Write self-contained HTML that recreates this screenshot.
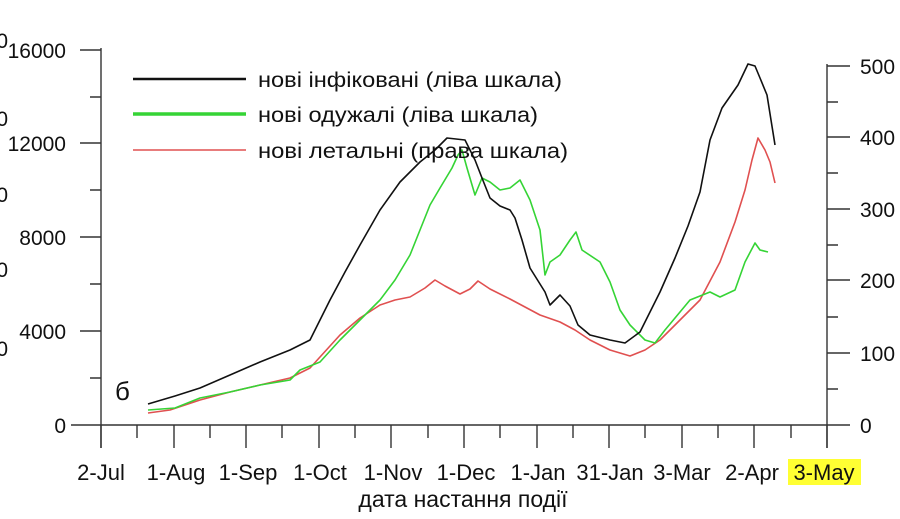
<!DOCTYPE html>
<html><head><meta charset="utf-8"><style>
body{margin:0;background:#fff;width:900px;height:514px;overflow:hidden}
svg{font-family:"Liberation Sans",sans-serif}
</style></head><body>
<svg width="900" height="514" viewBox="0 0 900 514">
<g stroke="#333" stroke-width="1.4" fill="none">
<line x1="101" y1="48" x2="101" y2="448"/>
<line x1="71" y1="425" x2="850" y2="425"/>
<line x1="827" y1="64" x2="827" y2="448"/>
<path d="M80 50H101M90 97H101M80 143H101M90 190H101M80 237H101M90 284H101M80 331H101M90 378H101"/>
<path d="M827 66H850M827 102H838M827 137H850M827 173H838M827 209H850M827 245H838M827 280H850M827 317H838M827 353H850M827 389H838"/>
<path d="M101 425V448M174 425V448M246 425V448M319 425V448M391 425V448M464 425V448M537 425V448M609 425V448M682 425V448M754 425V448M827 425V448"/>
<path d="M137 425V438M210 425V438M282 425V438M355 425V438M428 425V438M500 425V438M573 425V438M645 425V438M718 425V438M791 425V438"/>
</g>
<g font-size="21" fill="#111" text-anchor="end">
<text x="66" y="58">16000</text><text x="66" y="151">12000</text><text x="66" y="245">8000</text><text x="66" y="339">4000</text><text x="66" y="433">0</text>
</g>
<g font-size="21" fill="#111" text-anchor="end">
<text x="8" y="48">0</text><text x="8" y="126">0</text><text x="8" y="202">0</text><text x="8" y="277">0</text><text x="8" y="356">0</text>
</g>
<g font-size="21" fill="#111">
<text x="860" y="74">500</text><text x="860" y="145">400</text><text x="860" y="217">300</text><text x="860" y="288">200</text><text x="860" y="361">100</text><text x="860" y="433">0</text>
</g>
<rect x="788" y="459" width="73" height="26" fill="#ffff33"/>
<g font-size="22" fill="#111" text-anchor="middle">
<text x="101" y="480">2-Jul</text><text x="176" y="480">1-Aug</text><text x="248" y="480">1-Sep</text><text x="320" y="480">1-Oct</text><text x="393" y="480">1-Nov</text><text x="466" y="480">1-Dec</text><text x="538" y="480">1-Jan</text><text x="610" y="480">31-Jan</text><text x="682" y="480">3-Mar</text><text x="752" y="480">2-Apr</text><text x="824" y="480">3-May</text>
<text x="463" y="507" font-size="23">дата настання події</text>
</g>
<text x="115" y="400" font-size="26" fill="#111">б</text>
<g fill="none" stroke-width="1.6" stroke-linejoin="round">
<polyline stroke="#e05050" points="148,413 170,410 200,400 230,392 260,385 290,378 310,368 340,335 360,318 380,305 395,300 410,297 425,288 435,280 445,286 460,294 470,289 478,281 490,289 510,299 540,315 560,322 575,330 590,340 610,350 630,356 645,350 660,340 680,320 700,300 720,262 735,222 745,190 752,160 758,138 765,150 770,162 775,183"/>
<polyline stroke="#35d435" points="148,410 175,408 200,398 230,392 260,385 290,380 300,370 320,362 340,340 360,320 380,300 395,280 410,255 420,230 430,205 440,188 452,168 458,155 462,150 467,168 475,195 482,178 490,182 500,190 510,188 520,180 530,200 540,230 545,275 550,262 560,255 570,240 576,232 582,250 600,262 610,282 620,310 630,325 645,340 655,343 665,330 680,312 690,300 710,292 720,297 735,290 745,262 755,243 760,250 768,252"/>
<polyline stroke="#111" points="148,404 175,396 200,388 230,375 260,362 290,350 310,340 330,300 345,272 360,245 380,210 400,182 420,162 435,150 447,138 465,140 475,160 482,178 490,198 500,206 510,210 515,218 522,240 530,268 545,292 550,305 560,295 570,306 578,325 590,335 610,340 625,343 640,332 660,292 675,258 688,226 700,192 710,140 722,108 738,85 748,64 755,66 760,78 767,95 775,145"/>
</g>
<line x1="133" y1="79" x2="246" y2="79" stroke="#111" stroke-width="2.5"/>
<line x1="133" y1="114" x2="246" y2="114" stroke="#35d435" stroke-width="3.5"/>
<line x1="133" y1="150" x2="246" y2="150" stroke="#e05050" stroke-width="1.6"/>
<g font-size="21" fill="#111">
<text x="258" y="87" textLength="304" lengthAdjust="spacingAndGlyphs">нові інфіковані (ліва шкала)</text>
<text x="258" y="122" textLength="280" lengthAdjust="spacingAndGlyphs">нові одужалі (ліва шкала)</text>
<text x="258" y="158" textLength="310" lengthAdjust="spacingAndGlyphs">нові летальні (права шкала)</text>
</g>
</svg>
</body></html>
